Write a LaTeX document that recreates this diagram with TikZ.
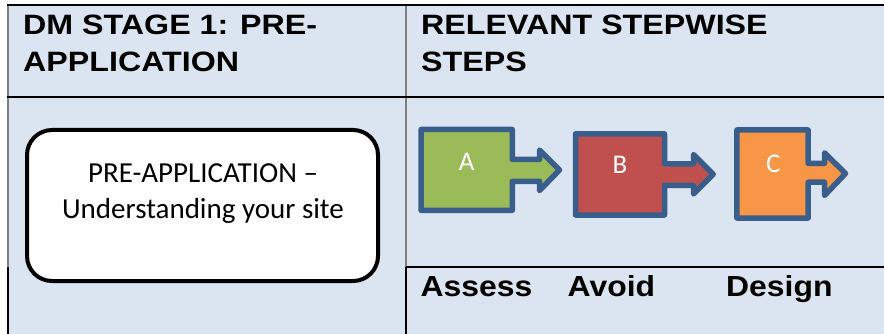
\documentclass[tikz,border=0pt]{standalone}
\usepackage{fontspec}
\setmainfont{Liberation Sans}
\newfontfamily\headfont[FakeStretch=1.15]{Liberation Sans}
\newfontfamily\labelfont[FakeStretch=1.1]{Liberation Sans}
\newfontfamily\boxfont{Carlito}

\definecolor{cellblue}{HTML}{DBE5F1}
\definecolor{rulegray}{HTML}{7F7F7F}
\definecolor{stepblue}{HTML}{3A5E8C}
\definecolor{assessgreen}{HTML}{9BBB59}
\definecolor{avoidred}{HTML}{C0504D}
\definecolor{designorange}{HTML}{F79646}

\begin{document}
\begin{tikzpicture}[x=1pt,y=-1pt,
    heading/.style={font={\headfont\bfseries\fontsize{28}{37.3}\selectfont},
        align=left,anchor=base west,inner sep=0pt},
    steplabel/.style={font={\labelfont\bfseries\fontsize{29}{35}\selectfont},
        anchor=base west,inner sep=0pt},
    stepshape/.style={draw=stepblue,line width=5.5pt,line join=round},
    stepletter/.style={font={\boxfont\fontsize{27}{30}\selectfont},
        text=white,anchor=base,inner sep=0pt},
    blackrule/.style={black,line width=2pt},
    grayrule/.style={rulegray,line width=1.6pt},
    ]
    \useasboundingbox (0,0) rectangle (884,334);

    % Table cells
    \fill[cellblue] (8,5) rectangle (884,334);
    \draw[grayrule] (8,5)--(8,266.7);
    \draw[grayrule] (406,5)--(406,266.7);
    \draw[blackrule] (8,266.7)--(8,334);
    \draw[blackrule] (406,266.7)--(406,334);
    \draw[blackrule] (7,5.3)--(884,5.3);
    \draw[blackrule] (7,96.7)--(884,96.7);
    \draw[blackrule] (406,266.7)--(884,266.7);

    % Header row (base = last line)
    \node[heading] (stagehead) at (23,71.7) {DM STAGE 1: PRE-\\APPLICATION};
    \node[heading] (stepshead) at (421,71.7) {RELEVANT STEPWISE\\STEPS};

    % Pre-application box
    \node[draw,line width=4pt,rounded corners=25pt,fill=white,
          minimum width=351pt,minimum height=151pt] (preapp) at (202.5,205.5) {};
    \node[font={\boxfont\fontsize{29}{35.6}\selectfont},align=center,
          anchor=base,inner sep=0pt] (preapptext) at (203,218.3)
          {PRE-APPLICATION –\\Understanding your site};

    % Step A
    \draw[stepshape,fill=assessgreen] (421,129.5) -| (512.3,159.5)
        -- (539.5,159.5) -- (539.5,150) -- (559.5,170) -- (539.5,190.6)
        -- (539.5,181.3) -- (512.3,181.3) |- (421,210.3) -- cycle;
    \node[stepletter] (stepa) at (466.7,170.7) {A};
    % Step B
    \draw[stepshape,fill=avoidred] (575.5,133.8) -| (664.5,163.8)
        -- (693.5,163.8) -- (693.5,154.5) -- (713.2,174.3) -- (693.5,194)
        -- (693.5,185.5) -- (664.5,185.5) |- (575.5,215) -- cycle;
    \node[stepletter] (stepb) at (620,174) {B};
    % Step C
    \draw[stepshape,fill=designorange] (736.8,130) -| (808.2,163.5)
        -- (824.5,163.5) -- (824.5,152.8) -- (845.5,173.5) -- (824.5,195.5)
        -- (824.5,182.2) -- (808.2,182.2) |- (736.8,218) -- cycle;
    \node[stepletter] (stepc) at (773.3,173) {C};

    % Step names
    \node[steplabel] (assess) at (420.5,296.7) {Assess};
    \node[steplabel] (avoid) at (567.5,296.7) {Avoid};
    \node[steplabel] (design) at (726,296.7) {Design};
\end{tikzpicture}
\end{document}
